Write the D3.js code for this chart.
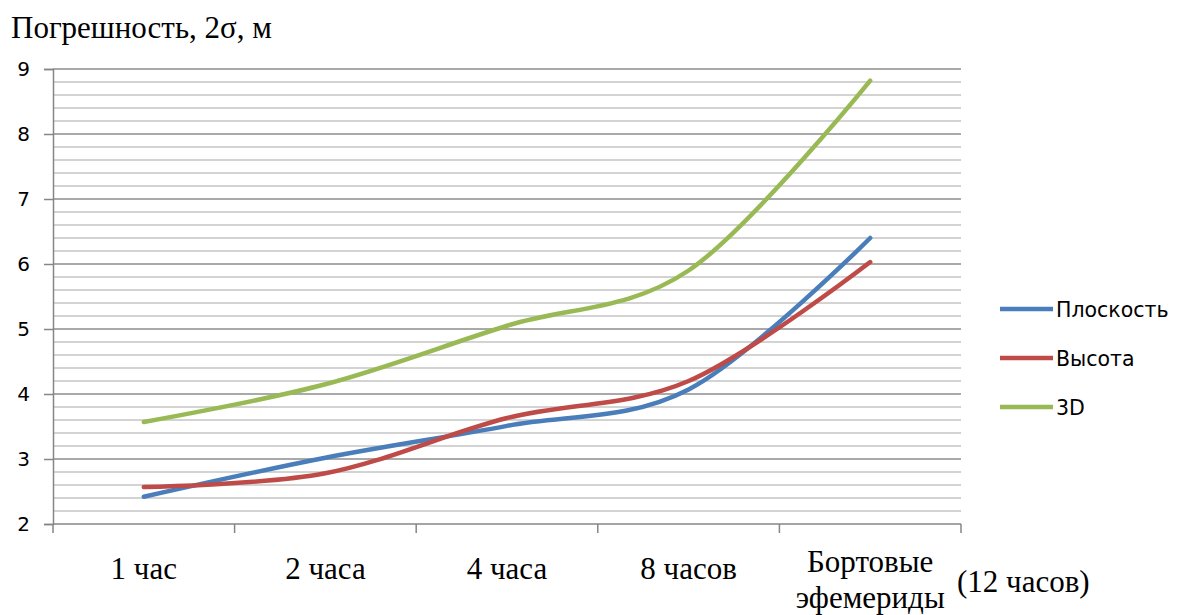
<!DOCTYPE html>
<html>
<head>
<meta charset="utf-8">
<script src="https://cdn.jsdelivr.net/npm/d3@7"></script>
<style>
  body { margin: 0; background: #fff; }
  svg { display: block; }
</style>
</head>
<body>
<svg id="chart" width="1178" height="615"></svg>
<script>
// categories along the x axis (each label may wrap over several lines)
const categories = ["1 час", "2 часа", "4 часа", "8 часов", "Бортовые эфемериды"];
const categoryLines = [["1 час"], ["2 часа"], ["4 часа"], ["8 часов"], ["Бортовые", "эфемериды"]];
const categoryNote = "(12 часов)";

// series values, metres (2 sigma)
const seriesNames = ["Плоскость", "Высота", "3D"];
const planeValues = [2.42, 3.02, 3.51, 4.07, 6.40];
const heightValues = [2.57, 2.78, 3.63, 4.20, 6.03];
const total3dValues = [3.57, 4.15, 5.05, 5.90, 8.82];
const seriesColors = ["#4a7ebb", "#be4b48", "#98b954"];

// y axis
const yDomain = [2, 9];
const yMajorTicks = [2, 3, 4, 5, 6, 7, 8, 9];
const yMinorStep = 0.2;
const yTitle = "Погрешность, 2σ, м";

let svg = d3.select('#chart');

let plot = { left: 53, right: 961, top: 69, bottom: 524 };

let x = d3.scaleBand()
    .domain(categories)
    .range([plot.left, plot.right])
    .padding(0);
let y = d3.scaleLinear()
    .domain(yDomain)
    .range([plot.bottom, plot.top]);

// minor grid first, then the major lines over it
let minor = d3.range(yDomain[0], yDomain[1] + 1e-9, yMinorStep)
    .filter(v => Math.abs(v - Math.round(v)) > 1e-6);
svg.append('g')
    .attr('class', 'grid-minor')
    .selectAll('line')
    .data(minor)
    .enter().append('line')
        .attr('x1', plot.left).attr('x2', plot.right)
        .attr('y1', d => y(d)).attr('y2', d => y(d))
        .style('stroke', '#c4c4c4')
        .style('stroke-width', 1.5);

svg.append('g')
    .attr('class', 'grid-major')
    .selectAll('line')
    .data(yMajorTicks.filter(v => v !== yDomain[0]))
    .enter().append('line')
        .attr('x1', plot.left).attr('x2', plot.right)
        .attr('y1', d => y(d)).attr('y2', d => y(d))
        .style('stroke', '#8c8c8c')
        .style('stroke-width', 1.5);

// y axis
let yAxis = svg.append('g')
    .attr('transform', `translate(${plot.left},0)`)
    .call(d3.axisLeft(y).tickValues(yMajorTicks).tickSize(9).tickPadding(14).tickFormat(d3.format('d')));
yAxis.select('.domain').style('stroke', '#868686').style('stroke-width', 1.5);
yAxis.selectAll('.tick line').style('stroke', '#868686').style('stroke-width', 1.5);
yAxis.selectAll('.tick text')
    .style('font-family', '"DejaVu Sans", sans-serif')
    .style('font-size', '20px')
    .style('fill', '#000');

// x axis: ticks sit on the band edges, as in Excel
let xAxis = svg.append('g')
    .attr('transform', `translate(0,${plot.bottom})`);
xAxis.append('line')
    .attr('x1', plot.left).attr('x2', plot.right)
    .style('stroke', '#868686').style('stroke-width', 1.5);
let edges = categories.map(c => x(c)).concat([x(categories[categories.length - 1]) + x.bandwidth()]);
xAxis.selectAll('line.tick')
    .data(edges)
    .enter().append('line')
        .attr('class', 'tick')
        .attr('x1', d => d).attr('x2', d => d)
        .attr('y1', 0).attr('y2', 9)
        .style('stroke', '#868686').style('stroke-width', 1.5);

let labels = svg.append('g')
    .style('font-family', '"Liberation Serif", "Times New Roman", serif')
    .style('font-size', '31px')
    .style('fill', '#000');
labels.selectAll('text')
    .data(categories)
    .enter().append('text')
        .attr('text-anchor', 'middle')
        .attr('x', d => x(d) + x.bandwidth() / 2)
        .attr('y', (d, i) => categoryLines[i].length > 1 ? 572 : 579)
        .each(function(d, i) {
            d3.select(this).selectAll('tspan')
                .data(categoryLines[i])
                .enter().append('tspan')
                    .attr('x', x(d) + x.bandwidth() / 2)
                    .attr('dy', (l, j) => j === 0 ? 0 : 36)
                    .text(l => l);
        });
labels.append('text')
    .attr('x', 957)
    .attr('y', 592)
    .text(categoryNote);

// axis title
svg.append('text')
    .attr('x', 11)
    .attr('y', 38)
    .style('font-family', '"Liberation Serif", "Times New Roman", serif')
    .style('font-size', '31px')
    .style('fill', '#000')
    .text(yTitle);

// smoothed lines (Excel smoothing ~ uniform Catmull-Rom)
let series = [planeValues, heightValues, total3dValues];
let line = d3.line()
    .x((d, i) => x(categories[i]) + x.bandwidth() / 2)
    .y(d => y(d))
    .curve(d3.curveCardinal.tension(0));

svg.append('g')
    .attr('class', 'series')
    .selectAll('path')
    .data(series)
    .enter().append('path')
        .attr('d', line)
        .style('fill', 'none')
        .style('stroke', (d, i) => seriesColors[i])
        .style('stroke-width', 4.5)
        .style('stroke-linecap', 'round')
        .style('stroke-linejoin', 'round');

// legend
let legend = svg.append('g')
    .attr('class', 'legend')
    .selectAll('g')
    .data(seriesNames)
    .enter().append('g')
        .attr('transform', (d, i) => `translate(1000,${309 + i * 49})`);
legend.append('line')
    .attr('x1', 0).attr('x2', 53)
    .style('stroke', (d, i) => seriesColors[i])
    .style('stroke-width', 4.5);
legend.append('text')
    .attr('x', 56)
    .attr('y', 8)
    .style('font-family', '"DejaVu Sans", sans-serif')
    .style('font-size', '20.5px')
    .style('fill', '#000')
    .text(d => d);
</script>
</body>
</html>
